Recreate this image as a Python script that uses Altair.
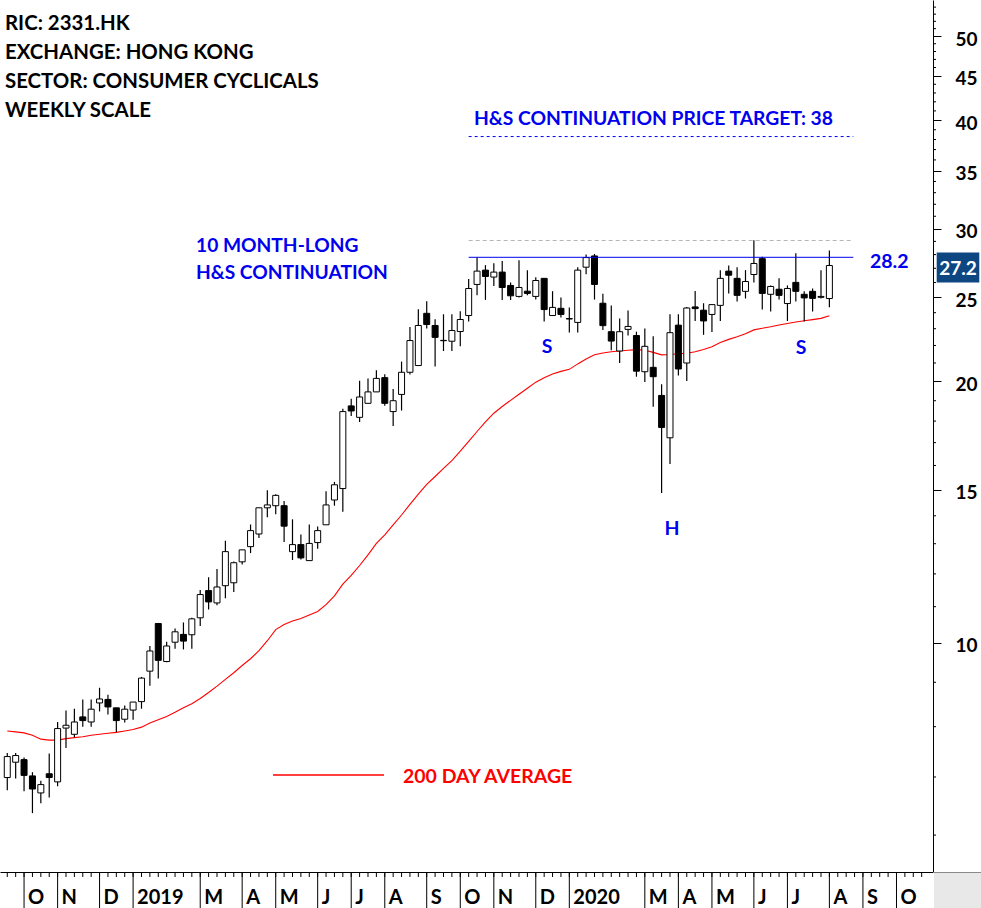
import altair as alt
import pandas as pd

FONT = "Lato"
BLUE = "#0000ee"
RED = "#ff0000"
W, H = 933, 872

first_week = "2018-09-17"

opens = [6.99, 7.28, 7.33, 7.02, 6.71, 7.06, 6.91, 7.97, 7.84, 8.21,
         8.10, 8.52, 8.60, 8.41, 8.16, 8.36, 8.55, 9.27, 10.52, 9.51,
         10.01, 10.22, 10.21, 10.68, 11.48, 11.11, 11.63, 11.72, 12.39, 12.90,
         13.34, 14.30, 14.38, 14.38, 12.73, 12.97, 12.43, 13.04, 13.67, 14.60,
         15.05, 18.74, 18.18, 18.87, 19.45, 20.20, 18.46, 19.32, 20.49, 20.86,
         23.96, 23.20, 22.28, 22.25, 22.83, 23.82, 25.87, 26.87, 26.38, 26.73,
         25.80, 25.06, 25.41, 25.06, 26.29, 23.82, 24.28, 23.63, 23.39, 27.08,
         27.90, 24.61, 22.82, 21.68, 22.96, 22.59, 20.52, 20.76, 19.27, 17.22,
         23.22, 21.00, 24.37, 24.16, 23.89, 24.47, 26.80, 26.29, 25.40, 26.56,
         27.70, 25.20, 25.54, 24.59, 26.01, 25.20, 25.40, 25.00, 24.92]

highs = [7.46, 7.46, 7.37, 7.09, 6.93, 7.45, 8.10, 8.35, 8.39, 8.60,
         8.60, 8.87, 8.71, 8.41, 8.46, 8.54, 9.13, 9.91, 10.52, 10.02,
         10.38, 10.55, 10.68, 11.50, 11.89, 12.16, 13.10, 12.40, 12.79, 13.68,
         14.30, 14.98, 14.82, 14.56, 13.87, 13.32, 13.68, 13.61, 14.94, 15.32,
         18.60, 19.10, 20.04, 20.16, 20.60, 20.38, 19.60, 21.08, 23.10, 24.22,
         24.74, 23.59, 23.90, 23.90, 24.09, 26.25, 27.78, 27.23, 27.37, 27.52,
         26.01, 27.59, 26.87, 26.37, 26.29, 25.41, 24.99, 24.34, 27.08, 28.00,
         28.05, 25.24, 24.47, 23.63, 24.14, 22.82, 23.01, 22.55, 19.85, 23.90,
         23.90, 24.37, 25.43, 24.61, 24.52, 26.87, 27.21, 27.08, 26.87, 29.08,
         27.85, 25.80, 26.29, 25.80, 28.11, 25.40, 25.59, 26.87, 28.30]

lows = [6.76, 6.97, 6.74, 6.36, 6.53, 6.63, 6.83, 7.56, 7.78, 8.00,
        8.00, 8.33, 8.26, 7.89, 8.09, 8.15, 8.39, 8.92, 9.09, 9.49,
        9.84, 9.82, 9.84, 10.45, 10.92, 11.04, 11.25, 11.44, 12.30, 12.68,
        13.20, 13.95, 14.06, 13.06, 12.45, 12.47, 12.43, 12.83, 13.67, 14.38,
        14.15, 18.25, 17.96, 18.87, 19.45, 18.75, 17.77, 18.51, 20.37, 20.86,
        23.01, 20.80, 21.68, 21.68, 21.95, 23.45, 25.13, 24.83, 25.77, 24.83,
        24.83, 24.99, 25.13, 24.85, 23.45, 23.82, 23.70, 22.77, 22.77, 26.58,
        24.85, 22.93, 21.72, 21.00, 22.59, 20.25, 19.97, 18.70, 14.87, 16.06,
        20.31, 20.02, 23.48, 22.63, 22.80, 23.48, 25.26, 24.73, 24.92, 26.01,
        24.20, 24.07, 24.86, 23.48, 24.73, 23.45, 24.07, 24.92, 24.35]

closes = [7.39, 7.41, 7.03, 6.78, 6.86, 6.99, 7.96, 8.03, 8.10, 8.13,
          8.38, 8.61, 8.43, 8.13, 8.38, 8.54, 9.10, 9.78, 9.54, 9.91,
          10.29, 10.04, 10.65, 11.36, 11.14, 11.59, 12.73, 12.36, 12.79, 13.46,
          14.30, 14.41, 14.78, 13.62, 12.97, 12.52, 13.01, 13.46, 14.41, 15.20,
          18.46, 18.49, 19.19, 19.45, 20.16, 18.87, 19.00, 20.49, 22.29, 23.20,
          23.26, 22.48, 22.30, 22.89, 23.57, 25.59, 26.80, 26.42, 26.73, 25.66,
          25.10, 25.66, 25.26, 26.14, 24.20, 24.34, 23.89, 23.60, 26.87, 27.78,
          25.87, 23.19, 22.26, 22.82, 23.14, 20.55, 21.95, 20.25, 17.70, 22.76,
          20.67, 24.30, 24.26, 23.48, 24.52, 26.29, 26.51, 25.13, 26.07, 27.35,
          25.26, 25.73, 25.13, 25.59, 25.40, 24.96, 24.93, 25.06, 27.20]

ma200 = [7.91, 7.89, 7.87, 7.82, 7.74, 7.72, 7.72, 7.75, 7.77, 7.79,
         7.82, 7.84, 7.86, 7.88, 7.91, 7.94, 7.99, 8.08, 8.15, 8.22,
         8.31, 8.41, 8.50, 8.62, 8.76, 8.91, 9.07, 9.23, 9.41, 9.58,
         9.79, 10.05, 10.35, 10.49, 10.59, 10.66, 10.76, 10.86, 11.06, 11.32,
         11.68, 11.95, 12.27, 12.62, 13.01, 13.31, 13.67, 14.03, 14.43, 14.83,
         15.22, 15.54, 15.88, 16.21, 16.62, 17.06, 17.51, 17.96, 18.38, 18.71,
         19.02, 19.33, 19.64, 19.96, 20.20, 20.40, 20.54, 20.65, 20.95, 21.23,
         21.47, 21.57, 21.64, 21.68, 21.72, 21.76, 21.72, 21.60, 21.46, 21.48,
         21.52, 21.55, 21.64, 21.77, 21.93, 22.17, 22.36, 22.51, 22.70, 22.93,
         23.03, 23.12, 23.23, 23.32, 23.41, 23.49, 23.56, 23.64, 23.80]

# month ticks sit on the week in which each month starts (Feb is not marked)
month_ticks = ["2018-10-01", "2018-10-29", "2018-12-03", "2018-12-31", "2019-02-25",
               "2019-04-01", "2019-04-29", "2019-06-03", "2019-07-01", "2019-07-29",
               "2019-09-02", "2019-09-30", "2019-10-28", "2019-12-02", "2019-12-30",
               "2020-03-02", "2020-03-30", "2020-04-27", "2020-06-01", "2020-06-29",
               "2020-08-03", "2020-08-31", "2020-09-28"]
month_labels = ["O", "N", "D", "2019", "M", "A", "M", "J", "J", "A", "S", "O", "N", "D",
                "2020", "M", "A", "M", "J", "J", "A", "S", "O"]
price_ticks = [10, 15, 20, 25, 30, 35, 40, 45, 50]

neckline_level = 27.8
neckline_label = "28.2"
peak_level = 29.07
target_level = 38.3
line_start, line_end = "2019-10-07", "2020-08-23"

dates = pd.date_range(first_week, periods=len(closes), freq="7D")
candles = pd.DataFrame({"date": dates, "open": opens, "high": highs,
                        "low": lows, "close": closes, "ma": ma200})

week_marks = pd.DataFrame({"date": pd.date_range(first_week, periods=110, freq="7D")})
month_marks = pd.DataFrame({"date": pd.to_datetime(month_ticks), "label": month_labels})
minor_marks = pd.DataFrame({"v": [v for v in range(6, 56) if v % 5]})


def dt(s):
    d = pd.Timestamp(s)
    return alt.DateTime(year=d.year, month=d.month, date=d.day, hours=d.hour, minutes=d.minute)


xscale = alt.Scale(domain=[dt("2018-09-15 02:24"), dt("2020-10-24 07:00")])
yscale = alt.Scale(type="log", domain=[5.44, 55.03], nice=False)

xaxis = alt.Axis(title="", grid=False, ticks=False, labels=False,
                 domainColor="black", domainWidth=1)
yaxis = alt.Axis(
    orient="right", values=price_ticks, title="", grid=False,
    domainColor="black", domainWidth=1, tickColor="black", tickWidth=1, tickSize=8,
    labelFont=FONT, labelFontWeight="bold", labelFontSize=19, labelColor="black",
    labelAlign="left", labelBaseline="middle", labelPadding=14, labelOffset=3,
    labelOverlap=False, labelFlush=False)


def X(field):
    return alt.X(field, type="temporal", scale=xscale, axis=xaxis)


def Y(field):
    return alt.Y(field, type="quantitative", scale=yscale, axis=yaxis)


ma_line = alt.Chart(candles).mark_line(color=RED, strokeWidth=1.1).encode(x=X("date"), y=Y("ma"))

wicks = alt.Chart(candles).mark_rule(color="black", strokeWidth=1.2).encode(
    x=X("date"), y=Y("low"), y2="high")

bodies = alt.Chart(candles).mark_bar(width=6, stroke="black", strokeWidth=1).encode(
    x=X("date"), y=Y("open"), y2="close",
    fill=alt.condition("datum.close >= datum.open", alt.value("white"), alt.value("black")))


def level_line(level, color, dash=None, width=1):
    df = pd.DataFrame({"start": [pd.Timestamp(line_start)], "end": [pd.Timestamp(line_end)],
                       "level": [level]})
    kw = dict(color=color, strokeWidth=width)
    if dash:
        kw["strokeDash"] = dash
    return alt.Chart(df).mark_rule(**kw).encode(x=X("start"), x2="end", y=Y("level"))


neck = level_line(neckline_level, BLUE)
peak = level_line(peak_level, "#b4b4b4", [4, 3])
target = level_line(target_level, BLUE, [3, 3])

week_ticks = alt.Chart(week_marks).mark_rule(color="black", strokeWidth=1).encode(
    x=X("date"), y=alt.value(H), y2=alt.value(H + 5))
month_rules = alt.Chart(month_marks).mark_rule(color="black", strokeWidth=1).encode(
    x=X("date"), y=alt.value(H), y2=alt.value(908))
month_text = alt.Chart(month_marks).mark_text(
    align="left", baseline="alphabetic", dx=4, font=FONT, fontWeight="bold",
    fontSize=20, color="black").encode(x=X("date"), y=alt.value(904), text="label:N")
minor_ticks = alt.Chart(minor_marks).mark_rule(color="black", strokeWidth=1).encode(
    y=Y("v"), x=alt.value(W), x2=alt.value(W + 3))

last = candles.tail(1)
tag_box = alt.Chart(last).mark_point(
    shape="M-1,-0.704L1,-0.704L1,0.704L-1,0.704Z", size=1815, filled=True,
    color="#0e4682", opacity=1, yOffset=2).encode(x=alt.value(958), y=Y("close"))
tag_text = alt.Chart(last).mark_text(
    font=FONT, fontWeight="bold", fontSize=19, color="white", align="center",
    baseline="middle", dy=3).encode(x=alt.value(958), y=Y("close"),
                                    text=alt.Text("close:Q", format=".1f"))

corner = alt.Chart(pd.DataFrame({"k": [0]})).mark_rect(color="#e8e8e8").encode(
    x=alt.value(W + 1), x2=alt.value(981), y=alt.value(H + 1), y2=alt.value(908))
corner_line = alt.Chart(pd.DataFrame({"k": [0]})).mark_rule(color="#8a8a8a").encode(
    x=alt.value(W), x2=alt.value(981), y=alt.value(H + 0.5))
legend_line = alt.Chart(pd.DataFrame({"k": [0]})).mark_rule(color=RED, strokeWidth=1.5).encode(
    x=alt.value(273), x2=alt.value(384), y=alt.value(775))


def label(txt, x, y, size, color, align="left"):
    return alt.Chart(pd.DataFrame({"t": [txt]})).mark_text(
        align=align, baseline="alphabetic", font=FONT, fontWeight="bold",
        fontSize=size, color=color).encode(x=alt.value(x), y=alt.value(y), text="t:N")


texts = [
    label("RIC: 2331.HK", 5, 30, 20.4, "black"),
    label("EXCHANGE: HONG KONG", 5, 58.5, 20.4, "black"),
    label("SECTOR: CONSUMER CYCLICALS", 5, 87.5, 20.4, "black"),
    label("WEEKLY SCALE", 5, 116.5, 20.4, "black"),
    label("H&S CONTINUATION PRICE TARGET: 38", 474, 125, 19.3, BLUE),
    label("10 MONTH-LONG", 196, 252, 19.2, BLUE),
    label("H&S CONTINUATION", 196, 279, 19.2, BLUE),
    label(neckline_label, 870, 268, 19.5, BLUE),
    label("S", 547, 353, 19.5, BLUE, "center"),
    label("H", 672, 535, 19.5, BLUE, "center"),
    label("S", 801, 354, 19.5, BLUE, "center"),
    label("200 DAY AVERAGE", 403, 783, 19.5, RED),
]

chart = alt.layer(
    ma_line, wicks, bodies, peak, neck, target, week_ticks, month_rules, month_text,
    minor_ticks, corner, corner_line, tag_box, tag_text, legend_line, *texts
).properties(
    width=W, height=H, autosize=alt.AutoSizeParams(type="none"),
    padding={"left": 0, "top": 0, "right": 981 - W, "bottom": 908 - H},
    background="white"
).configure_view(strokeWidth=0)

chart.save("out.html", embed_options={"renderer": "svg", "actions": False})
